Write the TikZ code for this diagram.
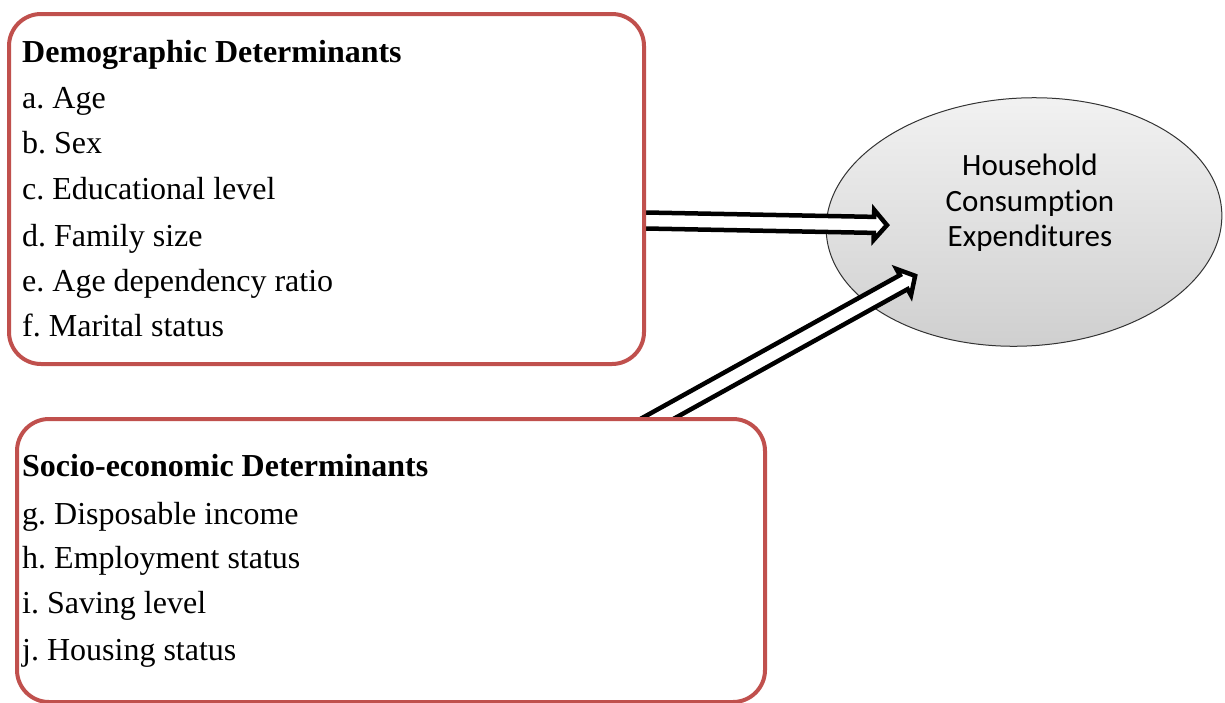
\documentclass[tikz,border=0pt]{standalone}
\usepackage{fontspec}
\setmainfont{Liberation Serif}
\newfontfamily\calib[Ligatures={NoCommon,NoRequired,NoContextual}]{Carlito}
\usetikzlibrary{arrows.meta,shapes.geometric}
\definecolor{boxred}{RGB}{192,80,77}
\frenchspacing
\begin{document}
\begin{tikzpicture}[x=1pt,y=-1pt,
  detbox/.style={draw=boxred,line width=4pt,rounded corners=32pt,fill=white,anchor=north west,inner sep=0pt},
  item/.style={anchor=base west,inner sep=0pt,font=\fontsize{32}{36}\selectfont},
  head/.style={item,font=\fontsize{32}{36}\selectfont\bfseries},
  fatarrow/.style={draw=black,fill=white,line width=4.5pt,line join=miter,miter limit=10},
  target/.style={ellipse,draw=black!80,line width=1pt,top color=gray!10,bottom color=gray!38,
    minimum width=396pt,minimum height=248pt,inner sep=0pt,rotate=3},
  tlabel/.style={align=center,font=\calib\fontsize{31}{35.5}\selectfont}]
\useasboundingbox (0,0) rectangle (1225,702);
% target
\node[target] (hce) at (1024,222) {};
\node[tlabel] (hcetext) at (1030,203) {Household\\Consumption\\Expenditures};
% arrows (drawn first, boxes cover their tails)
\coordinate (tail1) at (620,220);
\coordinate (tail2) at (637,430);
\begin{scope}[shift={(tail1)},rotate=-1.1]
  \draw[fatarrow] (0,-8) -- (254,-8) -- (254,-15) -- (267,0) -- (254,15) -- (254,8) -- (0,8) -- cycle;
\end{scope}
\begin{scope}[shift={(tail2)},rotate=29]
  \draw[fatarrow] (0,-8) -- (305,-8) -- (305,-15) -- (318,0) -- (305,15) -- (305,8) -- (0,8) -- cycle;
\end{scope}
% boxes
\node[detbox,minimum width=635pt,minimum height=350pt] (demo) at (7,12) {};
\node[detbox,minimum width=748pt,minimum height=283pt] (socio) at (15,417) {};
% texts
\node[head] (d0) at (22,62) {Demographic Determinants};
\node[item] (d1) at (22,108) {a. Age};
\node[item] (d2) at (22,153) {b. Sex};
\node[item] (d3) at (22,199) {c. Educational level};
\node[item] (d4) at (22,246) {d. Family size};
\node[item] (d5) at (22,291) {e. Age dependency ratio};
\node[item] (d6) at (22,336) {f. Marital status};
\node[head] (s0) at (22,476) {Socio-economic Determinants};
\node[item] (s1) at (22,524) {g. Disposable income};
\node[item] (s2) at (22,568) {h. Employment status};
\node[item] (s3) at (22,613) {i. Saving level};
\node[item] (s4) at (22,660) {j. Housing status};
\end{tikzpicture}
\end{document}
